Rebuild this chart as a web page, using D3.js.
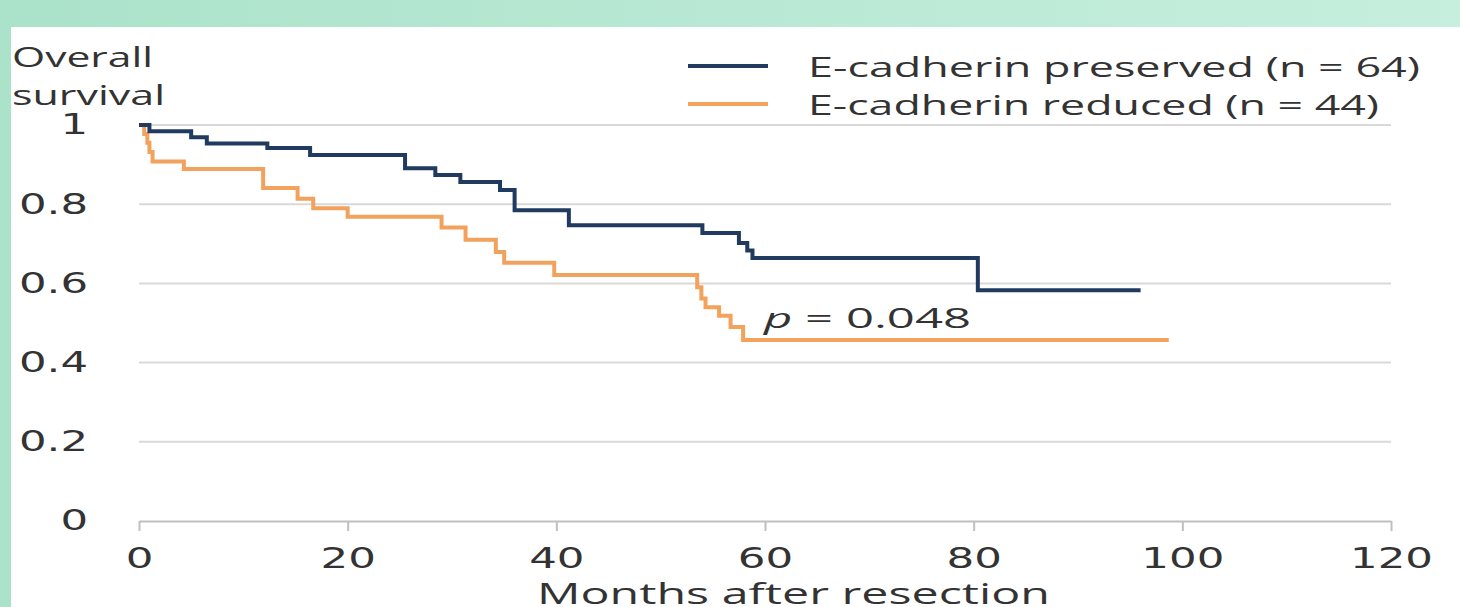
<!DOCTYPE html>
<html>
    <head>
        <meta charset="utf-8">
        <title>Overall survival by E-cadherin</title>
        <script src="https://d3js.org/d3.v7.min.js"></script>
        <style>
         html, body {
             margin: 0;
             padding: 0;
             background-color: white;
             overflow: hidden;
         }
         .grid line {
             stroke: #d9d9d9;
             stroke-width: 2;
         }
         .x-axis path, .x-axis line {
             stroke: #bfbfbf;
             stroke-width: 2;
         }
         .tick text {
             fill: #333;
             font-family: "DejaVu Sans", sans-serif;
         }
         .label {
             fill: #333;
             font-family: "Open Sans", sans-serif;
         }
        </style>
    </head>
    <body>
        <div id="plot"></div>

        <script>
         // Kaplan-Meier steps
         const preservedMonths   = [0, 1, 5, 6.5, 12.3, 16.4, 25.5, 28.4, 30.8, 34.6, 36, 41.2, 54, 57.5, 58.3, 58.8, 80.4, 96];
         const preservedSurvival = [1, 0.984, 0.969, 0.953, 0.942, 0.924, 0.891, 0.874, 0.856, 0.836, 0.785, 0.747, 0.727, 0.702, 0.683, 0.664, 0.583, 0.583];
         const reducedMonths     = [0, 0.5, 0.8, 1.0, 1.3, 4.3, 11.9, 15.2, 16.7, 20, 29, 31.3, 34.2, 35, 39.8, 53.5, 53.9, 54.3, 55.6, 56.7, 57.9, 98.7];
         const reducedSurvival   = [1, 0.977, 0.955, 0.932, 0.908, 0.889, 0.841, 0.814, 0.790, 0.768, 0.741, 0.710, 0.679, 0.652, 0.621, 0.59, 0.562, 0.540, 0.518, 0.490, 0.457, 0.457];
         const xTicks = [0, 20, 40, 60, 80, 100, 120];
         const yTicks = [0, 0.2, 0.4, 0.6, 0.8, 1];
         const seriesNames = ["E-cadherin preserved (n = 64)", "E-cadherin reduced (n = 44)"];
         const seriesColors = ["#213a5f", "#f2a25c"];
         const pValue = "0.048";

         const W = 1460, H = 607;

         var svg = d3.select("#plot")
                     .append("svg")
                     .attr("width", W)
                     .attr("height", H);

         // mint frame round the figure
         var grad = svg.append("defs").append("linearGradient")
                       .attr("id", "frame").attr("x1", "0").attr("x2", "1");
         grad.append("stop").attr("offset", "0").attr("stop-color", "#abe2ca");
         grad.append("stop").attr("offset", "1").attr("stop-color", "#c6efdd");
         svg.append("rect").attr("x", 0).attr("y", 0).attr("width", W).attr("height", 27).attr("fill", "url(#frame)");
         svg.append("rect").attr("x", 0).attr("y", 0).attr("width", 11).attr("height", H).attr("fill", "#abe2ca");

         var x = d3.scaleLinear().domain([0, 120]).range([139, 1391]);
         var y = d3.scaleLinear().domain([0, 1]).range([521, 125]);

         // the picture is stretched sideways, so stretch the text too
         const stretch = (sel, k) => sel.each(function () {
             const w = this.getComputedTextLength();
             d3.select(this).attr("textLength", w * k).attr("lengthAdjust", "spacingAndGlyphs");
         });
         const fitTo = (sel, w) => sel.attr("textLength", w).attr("lengthAdjust", "spacingAndGlyphs");

         // gridlines
         svg.append("g")
            .attr("class", "grid")
            .selectAll("line")
            .data(yTicks.filter(d => d > 0))
            .join("line")
            .attr("x1", x(0)).attr("x2", x(120))
            .attr("y1", d => y(d)).attr("y2", d => y(d));

         // X axis
         var gx = svg.append("g")
                     .attr("class", "x-axis")
                     .attr("transform", "translate(0," + y(0) + ")")
                     .call(d3.axisBottom(x).tickValues(xTicks).tickSize(10).tickSizeOuter(0).tickFormat(d3.format("d")));
         gx.selectAll("text").attr("y", 47).attr("dy", null).attr("font-size", 29);
         stretch(gx.selectAll("text"), 1.5);

         // Y axis, labels only
         var gy = svg.append("g")
                     .attr("transform", "translate(" + x(0) + ",0)")
                     .call(d3.axisLeft(y).tickValues(yTicks).tickSize(0).tickPadding(51)
                             .tickFormat(d => d === 0 || d === 1 ? String(d) : d3.format(".1f")(d)));
         gy.select(".domain").remove();
         gy.selectAll("text").attr("font-size", 28);
         stretch(gy.selectAll("text"), 1.55);

         // survival curves
         const line = d3.line()
                        .x(d => x(d[0]))
                        .y(d => y(d[1]))
                        .curve(d3.curveStepAfter);
         const curves = [
             d3.zip(preservedMonths, preservedSurvival),
             d3.zip(reducedMonths, reducedSurvival)
         ];
         // reduced first so preserved sits on top
         [1, 0].forEach(i => {
             svg.append("path")
                .datum(curves[i])
                .attr("fill", "none")
                .attr("stroke", seriesColors[i])
                .attr("stroke-width", 4)
                .attr("d", line);
         });

         // legend
         seriesNames.forEach((name, i) => {
             const ly = 66 + i * 38;
             svg.append("line")
                .attr("x1", 688).attr("x2", 768)
                .attr("y1", ly).attr("y2", ly)
                .attr("stroke", seriesColors[i])
                .attr("stroke-width", 4);
             fitTo(svg.append("text")
                      .attr("class", "label")
                      .attr("x", 808).attr("y", ly + 11)
                      .attr("font-size", 27)
                      .text(name), i === 0 ? 612 : 571);
         });

         // axis titles
         fitTo(svg.append("text").attr("class", "label")
                  .attr("x", 12).attr("y", 67).attr("font-size", 28)
                  .text("Overall"), 141);
         fitTo(svg.append("text").attr("class", "label")
                  .attr("x", 12).attr("y", 105).attr("font-size", 28)
                  .text("survival"), 153);
         fitTo(svg.append("text").attr("class", "label")
                  .attr("x", 537).attr("y", 604).attr("font-size", 29)
                  .text("Months after resection"), 513);

         // p value
         var pt = svg.append("text").attr("class", "label")
                     .attr("x", 764).attr("y", 328).attr("font-size", 28);
         pt.append("tspan").attr("font-style", "italic").text("p");
         pt.append("tspan").text(" = " + pValue);
         fitTo(pt, 207);
        </script>
    </body>
</html>
